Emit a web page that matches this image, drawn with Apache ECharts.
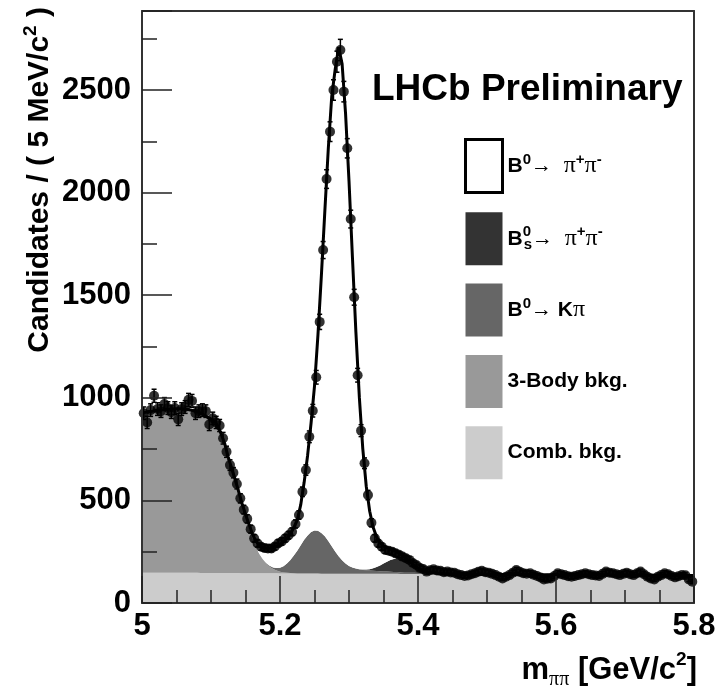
<!DOCTYPE html>
<html><head><meta charset="utf-8">
<script src="https://cdn.jsdelivr.net/npm/echarts@6/dist/echarts.min.js"></script>
<style>html,body{margin:0;padding:0;background:#fff}#c{width:722px;height:695px}</style>
</head><body><div id="c"></div>
<script>
// ---- binning ----
const massMin = 5.0, massMax = 5.8, binWidth = 0.005;
const xTickLabels = ['5', '5.2', '5.4', '5.6', '5.8'];
const yTickLabels = ['0', '500', '1000', '1500', '2000', '2500'];

// ---- data: candidates per 5 MeV bin (160 bins) ----
const candidates = [
  925,880,940,1010,945,935,970,950,930,950,
  895,945,955,990,985,925,935,940,935,870,
  900,880,865,803,737,672,635,580,510,455,
  410,360,315,290,274,268,266,266,275,291,
  300,315,330,347,385,429,542,648,810,937,
  1100,1370,1720,2066,2297,2500,2638,2695,2492,2216,
  1871,1490,1110,840,681,526,391,315,290,274,
  258,255,250,242,235,226,218,210,195,185,
  172,166,153,160,164,158,157,150,153,149,
  148,140,136,132,134,140,145,152,157,150,
  148,142,136,128,120,128,136,148,161,152,
  145,143,145,138,132,124,115,118,120,132,
  145,140,136,130,128,132,136,140,145,140,
  136,134,132,142,153,148,145,140,136,142,
  148,140,136,145,153,140,128,120,115,128,
  136,145,140,132,125,130,136,135,115,104
];

// ---- fit components, sampled every 5 MeV from 5.000 to 5.800 (161 points) ----
const combBkg = [
  148,148,148,148,148,148,147,147,147,147,
  147,147,147,147,147,147,147,146,146,146,
  146,146,146,146,146,146,146,146,146,145,
  145,145,145,145,145,145,145,145,145,145,
  144,144,144,144,144,144,144,144,144,144,
  144,144,143,143,143,143,143,143,143,143,
  143,143,143,142,142,142,142,142,142,142,
  142,142,142,142,142,141,141,141,141,141,
  141,141,141,141,141,141,140,140,140,140,
  140,140,140,140,140,140,140,140,139,139,
  139,139,139,139,139,139,139,139,139,138,
  138,138,138,138,138,138,138,138,138,138,
  137,137,137,137,137,137,137,137,137,137,
  137,137,136,136,136,136,136,136,136,136,
  136,136,136,135,135,135,135,135,135,135,
  135,135,135,135,134,134,134,134,134,134,
  134
];
const threeBodyBkg = [
  780,782,785,787,790,793,795,797,799,800,
  800,800,799,797,794,790,785,778,770,760,
  750,740,715,675,630,565,505,450,390,330,
  275,222,170,128,94,68,48,32,21,13,
  8,5,3,2,1,0,0,0,0,0,
  0,0,0,0,0,0,0,0,0,0,
  0,0,0,0,0,0,0,0,0,0,
  0,0,0,0,0,0,0,0,0,0,
  0,0,0,0,0,0,0,0,0,0,
  0,0,0,0,0,0,0,0,0,0,
  0,0,0,0,0,0,0,0,0,0,
  0,0,0,0,0,0,0,0,0,0,
  0,0,0,0,0,0,0,0,0,0,
  0,0,0,0,0,0,0,0,0,0,
  0,0,0,0,0,0,0,0,0,0,
  0,0,0,0,0,0,0,0,0,0,
  0
];
const bdToKpi = [
  0,0,0,0,0,0,0,0,0,0,
  0,0,0,0,0,0,0,0,0,0,
  0,0,0,0,0,0,0,0,0,0,
  0,0,0,0,1,1,2,4,7,12,
  20,30,45,64,86,111,138,164,185,202,
  209,208,198,182,159,133,108,85,65,49,
  37,30,25,21,19,17,16,15,14,13,
  12,11,10,9,9,8,7,7,6,6,
  5,5,4,4,3,3,2,2,1,1,
  1,0,0,0,0,0,0,0,0,0,
  0,0,0,0,0,0,0,0,0,0,
  0,0,0,0,0,0,0,0,0,0,
  0,0,0,0,0,0,0,0,0,0,
  0,0,0,0,0,0,0,0,0,0,
  0,0,0,0,0,0,0,0,0,0,
  0,0,0,0,0,0,0,0,0,0,
  0
];
const bsToPiPi = [
  0,0,0,0,0,0,0,0,0,0,
  0,0,0,0,0,0,0,0,0,0,
  0,0,0,0,0,0,0,0,0,0,
  0,0,0,0,0,0,0,0,0,0,
  0,0,0,0,0,0,0,0,0,0,
  0,0,0,0,0,0,0,0,0,0,
  0,0,0,1,2,4,7,12,19,28,
  38,48,58,64,66,64,58,48,38,28,
  19,12,7,4,2,1,0,0,0,0,
  0,0,0,0,0,0,0,0,0,0,
  0,0,0,0,0,0,0,0,0,0,
  0,0,0,0,0,0,0,0,0,0,
  0,0,0,0,0,0,0,0,0,0,
  0,0,0,0,0,0,0,0,0,0,
  0,0,0,0,0,0,0,0,0,0,
  0,0,0,0,0,0,0,0,0,0,
  0
];
const bdToPiPi = [
  0,0,0,0,0,0,0,0,0,0,
  0,0,0,0,0,0,0,0,0,0,
  0,0,0,0,0,0,5,6,8,10,
  13,17,22,30,40,56,72,86,97,106,
  113,118,122,127,136,149,196,280,390,530,
  704,955,1257,1586,1913,2194,2350,2480,2420,2194,
  1877,1511,1152,838,588,406,282,200,147,111,
  87,68,53,42,32,25,18,14,10,7,
  5,4,2,2,1,1,0,0,0,0,
  0,0,0,0,0,0,0,0,0,0,
  0,0,0,0,0,0,0,0,0,0,
  0,0,0,0,0,0,0,0,0,0,
  0,0,0,0,0,0,0,0,0,0,
  0,0,0,0,0,0,0,0,0,0,
  0,0,0,0,0,0,0,0,0,0,
  0,0,0,0,0,0,0,0,0,0,
  0
];

// ---- build ----
const curveMass = combBkg.map((_, j) => +(massMin + binWidth * j).toFixed(4));
const binCenters = candidates.map((_, i) => +(massMin + binWidth * (i + 0.5)).toFixed(4));
// value first, mass second: ECharts stacks the first numeric dimension (here the y value)
const pairYX = arr => arr.map((v, j) => [v, curveMass[j]]);
const points = candidates.map((v, i) => [binCenters[i], v, Math.sqrt(v)]);

const FONT = "'Liberation Sans', Arial, Helvetica, sans-serif";
const SERIF = "'Liberation Serif', 'DejaVu Serif', serif";

function areaSeries(name, arr, color) {
  return {
    name: name, type: 'line', stack: 'fit', data: pairYX(arr),
    encode: { x: 1, y: 0 },
    showSymbol: false, symbol: 'none', silent: true,
    lineStyle: { width: 0, color: color },
    itemStyle: { color: color },
    areaStyle: { color: color, opacity: 1 },
    z: 2
  };
}

const legendText = {
  comb: 'Comb. bkg.',
  three: '3-Body bkg.',
  kpi: 'B{sup|0}{arr|\u2192 }K{pi|\u03c0}',
  bs: 'B{supz|0}{sub|s}{arr|\u2192  }{pi|\u03c0}{sup|+}{pi|\u03c0}{sup|-}',
  b0: 'B{sup|0}{arr|\u2192  }{pi|\u03c0}{sup|+}{pi|\u03c0}{sup|-}'
};

const chart = echarts.init(document.getElementById('c'), null, { renderer: 'canvas' });
chart.setOption({
  animation: false,
  backgroundColor: '#ffffff',
  grid: { left: 142, right: 28, top: 11, bottom: 92, show: false, outerBoundsMode: 'none', containLabel: false },
  xAxis: [{
    type: 'value', min: massMin, max: massMax, interval: 0.2, z: 6,
    axisLine: { show: true, onZero: false, lineStyle: { color: '#333', width: 2 } },
    axisTick: { show: true, inside: true, length: 27, lineStyle: { color: '#222', width: 1.5 } },
    minorTick: { show: true, splitNumber: 4, length: 13, lineStyle: { color: '#222', width: 1.5 } },
    splitLine: { show: false },
    axisLabel: {
      margin: 8, color: '#000', fontSize: 31, fontWeight: 'bold', fontFamily: FONT,
      formatter: v => xTickLabels[Math.round((v - massMin) / 0.2)] ?? ''
    }
  }, {
    type: 'value', position: 'top', min: massMin, max: massMax, z: 6,
    axisLine: { show: true, onZero: false, lineStyle: { color: '#333', width: 2 } },
    axisTick: { show: false }, axisLabel: { show: false }, splitLine: { show: false }
  }],
  yAxis: [{
    type: 'value', min: 0, max: 2885, interval: 500, z: 6,
    axisLine: { show: true, onZero: false, lineStyle: { color: '#333', width: 2 } },
    axisTick: { show: true, inside: true, length: 30, lineStyle: { color: '#222', width: 1.5 } },
    minorTick: { show: true, splitNumber: 2, length: 15, lineStyle: { color: '#222', width: 1.5 } },
    splitLine: { show: false },
    axisLabel: {
      margin: 11, color: '#000', fontSize: 31, fontWeight: 'bold', fontFamily: FONT,
      showMaxLabel: false,
      formatter: v => (v % 500 === 0 ? (yTickLabels[v / 500] ?? '') : '')
    }
  }, {
    type: 'value', position: 'right', min: 0, max: 2885, z: 6,
    axisLine: { show: true, onZero: false, lineStyle: { color: '#333', width: 2 } },
    axisTick: { show: false }, axisLabel: { show: false }, splitLine: { show: false }
  }],
  legend: {
    orient: 'vertical', left: 459, top: 133, itemWidth: 37, itemHeight: 53, itemGap: 18.3,
    icon: 'rect', selectedMode: false,
    data: [
      { name: 'b0', itemStyle: { color: '#ffffff', borderColor: '#000000', borderWidth: 3 } },
      { name: 'bs', itemStyle: { color: '#333333', borderWidth: 0 } },
      { name: 'kpi', itemStyle: { color: '#666666', borderWidth: 0 } },
      { name: 'three', itemStyle: { color: '#999999', borderWidth: 0 } },
      { name: 'comb', itemStyle: { color: '#cccccc', borderWidth: 0 } }
    ],
    formatter: name => legendText[name],
    textStyle: {
      color: '#000', fontSize: 21, fontWeight: 'bold', fontFamily: FONT, lineHeight: 28,
      rich: {
        sup: { fontSize: 15, fontWeight: 'bold', fontFamily: FONT, lineHeight: 14, verticalAlign: 'top', color: '#000' },
        supz: { fontSize: 15, fontWeight: 'bold', fontFamily: FONT, lineHeight: 14, verticalAlign: 'top', width: 1, color: '#000' },
        sub: { fontSize: 15, fontWeight: 'bold', fontFamily: FONT, lineHeight: 14, verticalAlign: 'bottom', color: '#000' },
        arr: { fontSize: 21, fontWeight: 'normal', fontFamily: FONT, lineHeight: 28, color: '#000' },
        pi: { fontSize: 24, fontWeight: 'normal', fontFamily: SERIF, lineHeight: 28, color: '#000' }
      }
    }
  },
  graphic: [
    {
      type: 'text', x: 372, y: 90, z: 20,
      style: { text: 'LHCb Preliminary', fill: '#000', font: 'bold 37px ' + FONT, align: 'left', verticalAlign: 'middle' }
    },
    {
      type: 'text', x: 697, y: 670, z: 20,
      style: {
        text: '{m|m}{s|\u03c0\u03c0}{m| [GeV/c}{p|2}{m|]}', align: 'right', verticalAlign: 'middle',
        rich: {
          m: { fontSize: 31, fontWeight: 'bold', fontFamily: FONT, lineHeight: 40, fill: '#000' },
          s: { fontSize: 20, fontFamily: SERIF, lineHeight: 18, verticalAlign: 'bottom', fill: '#000' },
          p: { fontSize: 19, fontWeight: 'bold', fontFamily: FONT, lineHeight: 18, verticalAlign: 'top', fill: '#000' }
        }
      }
    },
    {
      type: 'text', x: 40, y: 7, rotation: Math.PI / 2, z: 20,
      style: {
        text: '{a|Candidates / ( 5 MeV/c}{p|2}{a| )}', align: 'right', verticalAlign: 'middle',
        rich: {
          a: { fontSize: 30, fontWeight: 'bold', fontFamily: FONT, lineHeight: 38, fill: '#000' },
          p: { fontSize: 19, fontWeight: 'bold', fontFamily: FONT, lineHeight: 18, verticalAlign: 'top', fill: '#000' }
        }
      }
    }
  ],
  series: [
    areaSeries('comb', combBkg, '#cccccc'),
    areaSeries('three', threeBodyBkg, '#999999'),
    areaSeries('kpi', bdToKpi, '#666666'),
    areaSeries('bs', bsToPiPi, '#333333'),
    {
      name: 'b0', type: 'line', stack: 'fit', data: pairYX(bdToPiPi),
      encode: { x: 1, y: 0 },
      showSymbol: false, symbol: 'none', silent: true, z: 3,
      lineStyle: { width: 3, color: '#000000' },
      itemStyle: { color: '#ffffff', borderColor: '#000000' },
      areaStyle: { color: '#ffffff', opacity: 1 }
    },
    {
      name: 'errors', type: 'custom', data: points, z: 4, silent: true,
      encode: { x: 0, y: 1 },
      renderItem: (params, api) => {
        const x = api.value(0), y = api.value(1), e = api.value(2);
        const top = api.coord([x, y + e]), bot = api.coord([x, y - e]);
        const st = { stroke: '#000', lineWidth: 1.5 };
        return {
          type: 'group', children: [
            { type: 'line', shape: { x1: top[0], y1: top[1], x2: bot[0], y2: bot[1] }, style: st },
            { type: 'line', shape: { x1: top[0] - 2.5, y1: top[1], x2: top[0] + 2.5, y2: top[1] }, style: st },
            { type: 'line', shape: { x1: bot[0] - 2.5, y1: bot[1], x2: bot[0] + 2.5, y2: bot[1] }, style: st }
          ]
        };
      }
    },
    {
      name: 'data', type: 'scatter', data: points.map(p => [p[0], p[1]]),
      symbol: 'circle', symbolSize: 10, itemStyle: { color: '#000' }, z: 5, silent: true
    }
  ]
});
</script>
</body></html>
